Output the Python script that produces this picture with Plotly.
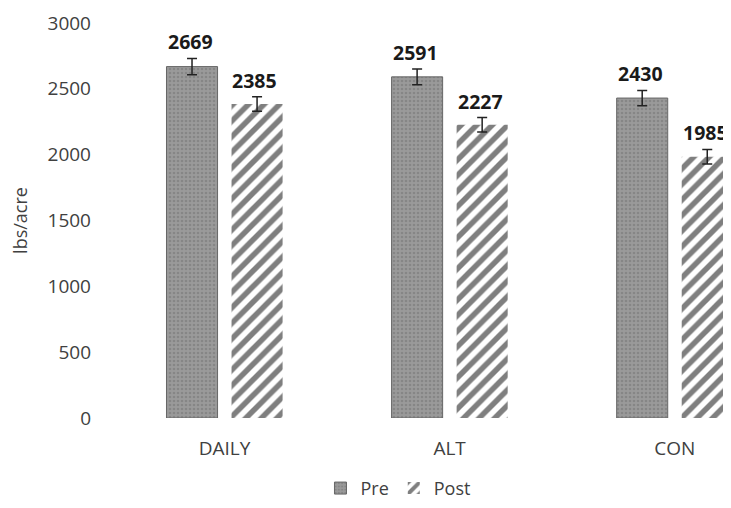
import plotly.graph_objects as go

categories = ["DAILY", "ALT", "CON"]
pre_values = [2669, 2591, 2430]
post_values = [2385, 2227, 1985]
pre_err = [62, 60, 58]
post_err = [55, 55, 55]
y_ticks = [0, 500, 1000, 1500, 2000, 2500, 3000]

FONT = "Open Sans"
TXT = "#404040"

fig = go.Figure()
fig.add_trace(go.Bar(
    name="Pre", x=categories, y=pre_values,
    marker=dict(color="#8e8e8e",
                line=dict(color="#666666", width=1),
                pattern=dict(shape=".", fgcolor="#727272", bgcolor="#9a9a9a", size=4, solidity=0.35)),
    error_y=dict(type="data", array=pre_err, color="#222222", thickness=1.5, width=5),
))
fig.add_trace(go.Bar(
    name="Post", x=categories, y=post_values,
    marker=dict(color="white", line=dict(width=0),
                pattern=dict(shape="/", fgcolor="#000000", bgcolor="white", size=11, solidity=0.5)),
    error_y=dict(type="data", array=post_err, color="#222222", thickness=1.5, width=5),
))

for i, c in enumerate(categories):
    for vals, errs, off in ((pre_values, pre_err, -0.144), (post_values, post_err, 0.144)):
        fig.add_annotation(x=i + off, y=vals[i] + errs[i], text=f"<b>{vals[i]}</b>",
                           showarrow=False, yanchor="bottom", yshift=1, xshift=-2,
                           font=dict(family=FONT, size=19.5, color="#1a1a1a"))

fig.update_layout(
    width=723, height=500,
    margin=dict(l=104, r=0, t=15, b=90, autoexpand=False),
    paper_bgcolor="white", plot_bgcolor="white",
    barmode="group", bargap=0.422, bargroupgap=0.215,
    font=dict(family=FONT, size=19, color=TXT),
    showlegend=True,
    legend=dict(orientation="h", x=0.462, xanchor="center", y=-0.225, yanchor="bottom",
                borderwidth=0, bgcolor="rgba(0,0,0,0)",
                font=dict(family=FONT, size=18, color=TXT), itemwidth=30),
    xaxis=dict(range=[-0.5, 2.25], showgrid=False, showline=False, zeroline=False, automargin=False,
               tickfont=dict(family=FONT, size=19, color=TXT), ticklabelstandoff=17),
    yaxis=dict(range=[0, 3000], tickvals=y_ticks, showgrid=False, showline=False, zeroline=False,
               automargin=False,
               tickfont=dict(family=FONT, size=19, color=TXT), ticklabelstandoff=20,
               title=dict(text="lbs/acre", font=dict(family=FONT, size=18, color=TXT), standoff=18)),
)

fig.write_html("out.html")
